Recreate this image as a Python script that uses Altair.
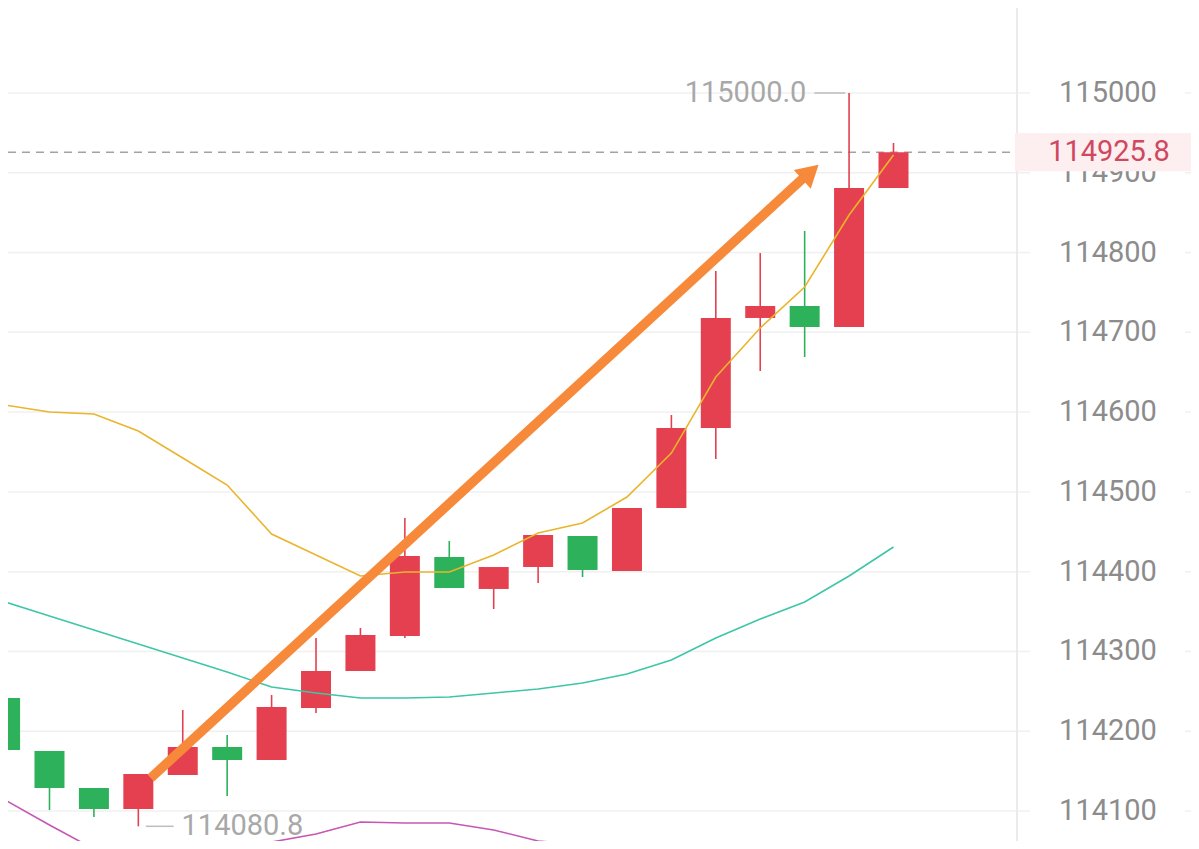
import altair as alt
import pandas as pd

# ---------------- data ----------------
idx = list(range(21))
opens = [114241.6, 114175.2, 114128.8, 114102.5, 114145.1, 114180.2, 114163.9, 114229.1,
         114275.5, 114319.3, 114418.4, 114378.3, 114405.8, 114444.7, 114400.8, 114479.8,
         114580.1, 114718.0, 114733.0, 114706.7, 114880.9]
closes = [114176.5, 114128.8, 114102.5, 114146.4, 114180.2, 114163.9, 114230.4, 114275.5,
          114320.6, 114419.6, 114379.5, 114405.8, 114446.0, 114402.1, 114479.8, 114580.1,
          114718.0, 114733.0, 114706.7, 114880.9, 114925.8]
highs = [114241.6, 114175.2, 114128.8, 114146.4, 114226.6, 114195.3, 114245.4, 114316.8,
         114329.4, 114467.3, 114438.4, 114405.8, 114446.0, 114444.7, 114479.8, 114596.4,
         114776.9, 114799.4, 114827.0, 115000.0, 114937.3]
lows = [114160.2, 114101.2, 114092.5, 114080.8, 114145.1, 114118.8, 114163.9, 114222.8,
        114275.5, 114316.8, 114379.5, 114353.2, 114385.8, 114393.3, 114400.8, 114479.8,
        114541.2, 114651.5, 114669.1, 114706.7, 114880.9]

ma_yellow = [114608.9, 114600.1, 114597.6, 114576.3, 114542.5, 114508.6, 114447.2, 114420.9,
             114394.6, 114399.6, 114399.6, 114420.9, 114448.5, 114461.0, 114493.6, 114548.7,
             114644.0, 114705.4, 114756.8, 114847.1, 114922.3]
ma_teal = [114362.0, 114344.4, 114326.9, 114309.3, 114291.8, 114274.2, 114255.4, 114247.9,
           114241.6, 114241.6, 114242.9, 114247.9, 114252.9, 114260.4, 114271.7, 114289.3,
           114316.8, 114340.7, 114362.0, 114394.6, 114430.9]
ma_purple = [114113.8, 114082.4, 114052.4, 114032.3, 114023.5, 114031.0, 114061.1, 114071.2,
             114086.2, 114084.9, 114084.9, 114076.2, 114062.4, 114057.4, 114048.6, 114032.0,
             114007.2, 113990.0, 113975.0, 113960.0, 113950.0]

tick_values = [114100, 114200, 114300, 114400, 114500, 114600, 114700, 114800, 114900, 115000]
last_price = 114925.8
high_value = 115000.0
low_value = 114080.8
high_label = "115000.0"
low_label = "114080.8"

arrow_x = [3.28, 18.0]
arrow_y = [114141.4, 114895.0]
arrow_head_x = [18.13]
arrow_head_y = [114900.8]

# ---------------- layout ----------------
W, H = 1183, 833
PX = 44.8  # pixels per candle slot
xdom = [8 / PX, (W + 8) / PX]
ydom = [115000 - (H - 85) * 1.2535, 115000 + 85 * 1.2535]

RED = "#E4404F"
GREEN = "#2DB15A"
FONT = "Roboto"

xs = alt.Scale(domain=xdom, nice=False, zero=False)
ys = alt.Scale(domain=ydom, nice=False, zero=False)


def X(f):
    return alt.X(f, type="quantitative", scale=xs, axis=None)


def Y(f):
    return alt.Y(f, type="quantitative", scale=ys, axis=None)


candles = pd.DataFrame({"i": idx, "open": opens, "close": closes, "high": highs, "low": lows})
candles["dir"] = ["up" if c >= o else "down" for o, c in zip(opens, closes)]
color_enc = alt.Color("dir:N", scale=alt.Scale(domain=["up", "down"], range=[RED, GREEN]), legend=None)

ticks = pd.DataFrame({"v": tick_values, "label": [str(t) for t in tick_values]})

grid = alt.Chart(ticks).mark_rule(color="#f0f0f0", strokeWidth=1.5).encode(
    y=Y("v"), x=alt.value(0), x2=alt.value(W))
mask = alt.Chart(ticks).mark_rule(color="white", strokeWidth=30).encode(
    y=Y("v"), x=alt.value(1022), x2=alt.value(1177))
sep = alt.Chart(ticks.head(1)).mark_rule(color="#ebebeb", strokeWidth=2).encode(
    x=alt.value(1009), y=alt.value(0), y2=alt.value(H))

price_df = pd.DataFrame({"p": [last_price], "top": [last_price + 24], "bot": [last_price - 24],
                         "label": [f"{last_price:.1f}"]})
price_line = alt.Chart(price_df).mark_rule(color="#a3a3a3", strokeWidth=1.5, strokeDash=[8, 6]).encode(
    y=Y("p"), x=alt.value(0), x2=alt.value(1005))

wicks = alt.Chart(candles).mark_rule(strokeWidth=1.6, clip=True).encode(
    x=X("i"), y=Y("low"), y2="high", color=color_enc)
bodies = alt.Chart(candles).mark_bar(size=30, clip=True).encode(
    x=X("i"), y=Y("open"), y2="close", color=color_enc)

ma_df = pd.DataFrame({"i": idx, "y": ma_yellow, "t": ma_teal, "p": ma_purple})
line_y = alt.Chart(ma_df).mark_line(color="#E9B52C", strokeWidth=1.6, clip=True).encode(x=X("i"), y=Y("y"))
line_t = alt.Chart(ma_df).mark_line(color="#3EC6A6", strokeWidth=1.6, clip=True).encode(x=X("i"), y=Y("t"))
line_p = alt.Chart(ma_df).mark_line(color="#C657B4", strokeWidth=1.6, clip=True).encode(x=X("i"), y=Y("p"))

ORANGE = "#F68A3A"
arrow_df = pd.DataFrame({"x": arrow_x, "y": arrow_y})
arrow = alt.Chart(arrow_df).mark_line(color=ORANGE, strokeWidth=9.5, strokeCap="butt").encode(
    x=X("x"), y=Y("y"))
head_df = pd.DataFrame({"x": arrow_head_x, "y": arrow_head_y})
head = alt.Chart(head_df).mark_point(shape="triangle-up", filled=True, size=640, angle=48,
                                     color=ORANGE, opacity=1).encode(x=X("x"), y=Y("y"))

# high / low annotations
hi_i = highs.index(high_value)
lo_i = lows.index(low_value)
ann_rules = pd.DataFrame({
    "x1": [hi_i - 35 / PX, lo_i + 7.6 / PX],
    "x2": [hi_i - 4 / PX, lo_i + 35.6 / PX],
    "y": [high_value, low_value],
})
ann_rule = alt.Chart(ann_rules).mark_rule(color="#bdbdbd", strokeWidth=1.5).encode(
    x=X("x1"), x2="x2", y=Y("y"))
hi_txt = alt.Chart(pd.DataFrame({"x": [hi_i - 43 / PX], "y": [high_value], "t": [high_label]})).mark_text(
    align="right", baseline="middle", font=FONT, fontSize=29, color="#a8a8a8").encode(
    x=X("x"), y=Y("y"), text="t:N")
lo_txt = alt.Chart(pd.DataFrame({"x": [lo_i + 43.6 / PX], "y": [low_value], "t": [low_label]})).mark_text(
    align="left", baseline="middle", font=FONT, fontSize=29, color="#a8a8a8").encode(
    x=X("x"), y=Y("y"), text="t:N")

axis_labels = alt.Chart(ticks).mark_text(align="center", baseline="middle", font=FONT, fontSize=29,
                                         color="#8c8c8c").encode(
    y=Y("v"), x=alt.value(1100), text="label:N")

price_box = alt.Chart(price_df).mark_rect(color="#FDEFF0").encode(
    y=Y("top"), y2="bot", x=alt.value(1007), x2=alt.value(W))
price_txt = alt.Chart(price_df).mark_text(align="center", baseline="middle", font=FONT, fontSize=29,
                                          color="#CF4860").encode(
    y=Y("p"), x=alt.value(1101), text="label:N")

chart = alt.layer(
    grid, mask, sep, price_line, wicks, bodies, line_p, line_t, line_y, arrow, head,
    ann_rule, hi_txt, lo_txt, axis_labels, price_box, price_txt
).properties(
    width=W, height=H, autosize=alt.AutoSizeParams(type="none"), padding=0, background="white"
).configure_view(stroke=None)

chart.save("out.html", embed_options={"renderer": "svg", "actions": False})
